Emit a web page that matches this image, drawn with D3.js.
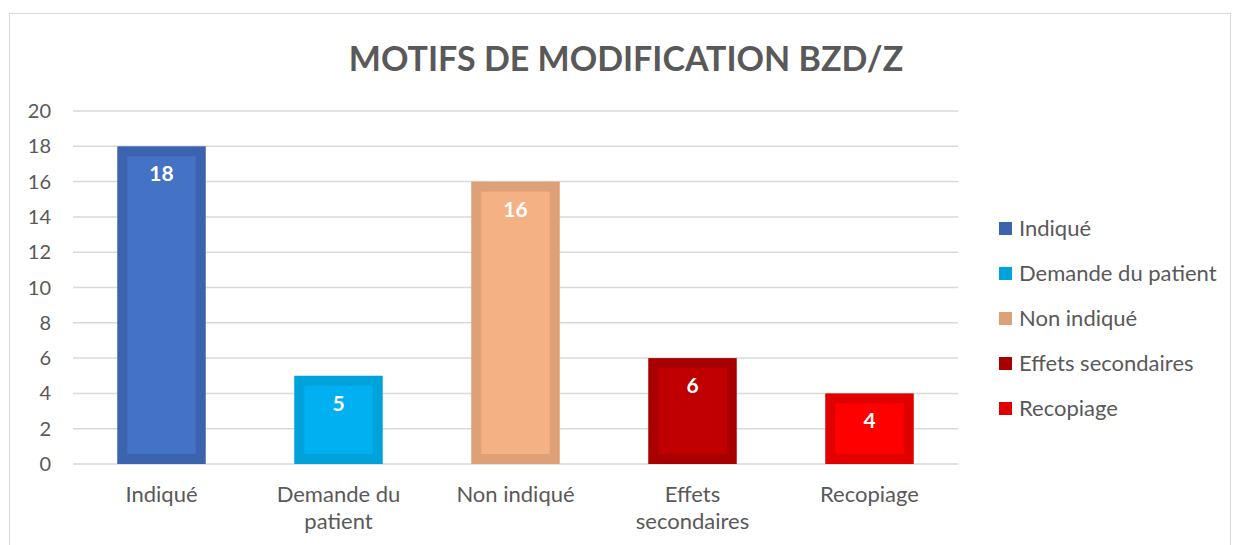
<!DOCTYPE html>
<html>
<head>
<meta charset="utf-8">
<script src="https://cdn.jsdelivr.net/npm/d3@7"></script>
<style>
  body { margin: 0; background: #fff; }
  text { font-family: Lato, "Open Sans", sans-serif; }
</style>
</head>
<body>
<svg id="viz"></svg>
<script>
// chart values
const categories = ["Indiqué", "Demande du patient", "Non indiqué", "Effets secondaires", "Recopiage"];
const values = [18, 5, 16, 6, 4];
const axisLabels = [["Indiqué"], ["Demande du", "patient"], ["Non indiqué"], ["Effets", "secondaires"], ["Recopiage"]];
const yTicks = [0, 2, 4, 6, 8, 10, 12, 14, 16, 18, 20];
const fills = ["#4472C4", "#00B0F0", "#F4B183", "#C00000", "#FF0000"];
const borders = ["#3C63AD", "#00A2DA", "#DDA077", "#A80000", "#E00000"];

const width = 1233, height = 545;
const svg = d3.select("#viz").attr("width", width).attr("height", height);

// outer frame
svg.append("rect")
  .attr("x", 9.5).attr("y", 13.5)
  .attr("width", 1221).attr("height", 560)
  .attr("fill", "#fff").attr("stroke", "#D9D9D9");

svg.append("text")
  .attr("x", 626).attr("y", 71)
  .attr("text-anchor", "middle")
  .attr("font-size", 34).attr("font-weight", "bold")
  .attr("fill", "#595959")
  .text("MOTIFS DE MODIFICATION BZD/Z");

const x = d3.scaleBand().domain(categories).range([73, 958])
  .paddingInner(0.5).paddingOuter(0.25);
const y = d3.scaleLinear().domain([0, 20]).range([464, 111]);

// gridlines
svg.append("g").selectAll("line")
  .data(yTicks)
  .join("line")
  .attr("x1", 73).attr("x2", 958)
  .attr("y1", d => y(d)).attr("y2", d => y(d))
  .attr("stroke", "#D9D9D9").attr("stroke-width", 1.5);

// y axis labels
svg.append("g").selectAll("text")
  .data(yTicks)
  .join("text")
  .attr("x", 51).attr("y", d => y(d) + 7)
  .attr("text-anchor", "end")
  .attr("font-size", 20).attr("fill", "#595959")
  .text(d => d);

const bars = svg.append("g").selectAll("g")
  .data(categories)
  .join("g");

// outer (border) then inner fill
bars.append("rect")
  .attr("x", d => x(d)).attr("y", (d, i) => y(values[i]))
  .attr("width", x.bandwidth())
  .attr("height", (d, i) => y(0) - y(values[i]))
  .attr("fill", (d, i) => borders[i]);
bars.append("rect")
  .attr("x", d => x(d) + 10).attr("y", (d, i) => y(values[i]) + 10)
  .attr("width", x.bandwidth() - 20)
  .attr("height", (d, i) => y(0) - y(values[i]) - 20)
  .attr("fill", (d, i) => fills[i]);

bars.append("text")
  .attr("x", d => x(d) + x.bandwidth() / 2)
  .attr("y", (d, i) => y(values[i]) + 35)
  .attr("text-anchor", "middle")
  .attr("font-size", 21).attr("font-weight", "bold")
  .attr("fill", "#fff")
  .text((d, i) => values[i]);

// x axis labels
const xl = svg.append("g").selectAll("text")
  .data(categories)
  .join("text")
  .attr("x", d => x(d) + x.bandwidth() / 2)
  .attr("y", 502)
  .attr("text-anchor", "middle")
  .attr("font-size", 22).attr("fill", "#595959");
xl.selectAll("tspan")
  .data((d, i) => axisLabels[i])
  .join("tspan")
  .attr("x", function() { return this.parentNode.getAttribute("x"); })
  .attr("dy", (d, j) => j === 0 ? 0 : 27)
  .text(d => d);

// legend
const leg = svg.append("g").selectAll("g")
  .data(categories)
  .join("g")
  .attr("transform", (d, i) => `translate(999, ${222 + i * 45})`);
leg.append("rect")
  .attr("width", 13).attr("height", 13)
  .attr("fill", (d, i) => borders[i]);
leg.append("text")
  .attr("x", 20).attr("y", 14)
  .attr("font-size", 22).attr("fill", "#595959")
  .text(d => d);
</script>
</body>
</html>
